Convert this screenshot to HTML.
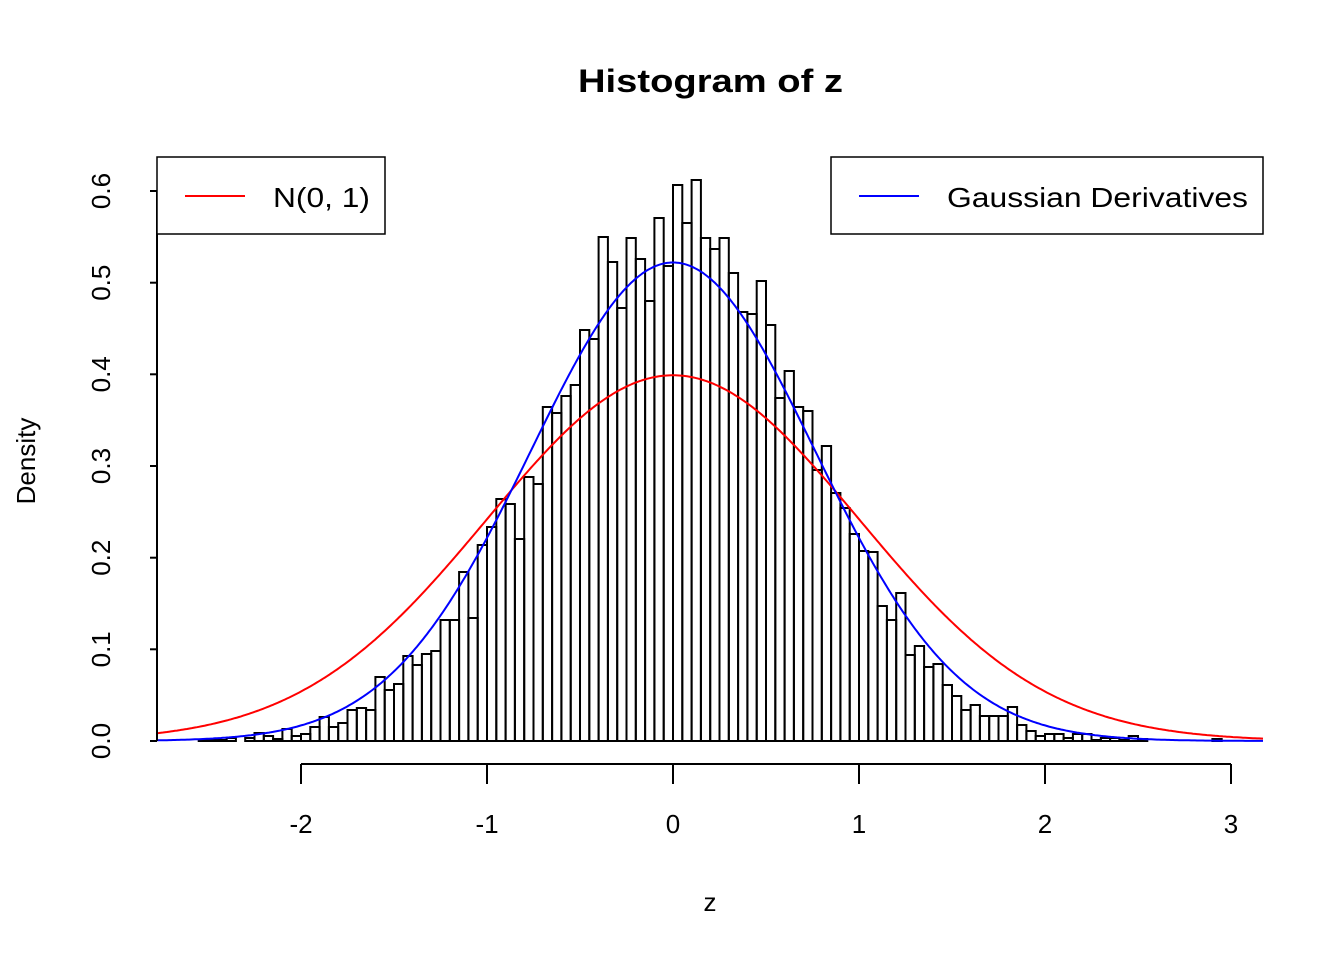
<!DOCTYPE html>
<html><head><meta charset="utf-8"><style>
html,body{margin:0;padding:0;background:#fff}
svg text{font-family:"Liberation Sans",Arial,sans-serif;fill:#000}
</style></head><body>
<svg id="s" width="1344" height="960" xmlns="http://www.w3.org/2000/svg">
<text x="578" y="92" font-size="32" font-weight="bold" textLength="265" lengthAdjust="spacingAndGlyphs">Histogram of z</text>
<g id="bars" fill="none" stroke="#000" stroke-width="2"></g>
<polyline id="red" fill="none" stroke="#ff0000" stroke-width="2"/>
<polyline id="blue" fill="none" stroke="#0000ff" stroke-width="2"/>
<g stroke="#000" stroke-width="2">
<line x1="157" y1="191" x2="157" y2="741"/>
<line x1="150" y1="741" x2="157" y2="741"/><line x1="150" y1="649.3" x2="157" y2="649.3"/>
<line x1="150" y1="557.7" x2="157" y2="557.7"/><line x1="150" y1="466" x2="157" y2="466"/>
<line x1="150" y1="374.3" x2="157" y2="374.3"/><line x1="150" y1="282.7" x2="157" y2="282.7"/>
<line x1="150" y1="191" x2="157" y2="191"/>
<line x1="301" y1="764" x2="1231" y2="764"/>
<line x1="301" y1="764" x2="301" y2="784"/><line x1="487" y1="764" x2="487" y2="784"/>
<line x1="673" y1="764" x2="673" y2="784"/><line x1="859" y1="764" x2="859" y2="784"/>
<line x1="1045" y1="764" x2="1045" y2="784"/><line x1="1231" y1="764" x2="1231" y2="784"/>
</g>
<g font-size="26" text-anchor="middle">
<text x="301" y="833">-2</text><text x="487" y="833">-1</text><text x="673" y="833">0</text>
<text x="859" y="833">1</text><text x="1045" y="833">2</text><text x="1231" y="833">3</text>
<text x="710" y="911">z</text>
<text transform="translate(110,741) rotate(-90)">0.0</text>
<text transform="translate(110,649.3) rotate(-90)">0.1</text>
<text transform="translate(110,557.7) rotate(-90)">0.2</text>
<text transform="translate(110,466) rotate(-90)">0.3</text>
<text transform="translate(110,374.3) rotate(-90)">0.4</text>
<text transform="translate(110,282.7) rotate(-90)">0.5</text>
<text transform="translate(110,191) rotate(-90)">0.6</text>
<text transform="translate(35,461) rotate(-90)">Density</text>
</g>
<rect x="157" y="157" width="228" height="77" fill="#fff" stroke="#000" stroke-width="1.5"/>
<line x1="185" y1="196" x2="245" y2="196" stroke="#ff0000" stroke-width="2"/>
<text x="273" y="207" font-size="28" textLength="97" lengthAdjust="spacingAndGlyphs">N(0, 1)</text>
<rect x="831" y="157" width="432" height="77" fill="#fff" stroke="#000" stroke-width="1.5"/>
<line x1="859" y1="196" x2="919" y2="196" stroke="#0000ff" stroke-width="2"/>
<text x="947" y="207" font-size="28" textLength="301" lengthAdjust="spacingAndGlyphs">Gaussian Derivatives</text>
</svg>
<script>
var tops=[740,740,740,738,741,738,733,736,739,729,736,734,727,717,727,723,710,708,710,677,690,684,656,665,654,651,620,620,572,618,
545,527,499,504,539,477,484,407,413,396,385,330,339,237,262,308,238,259,301,218,266,185,223,180,238,249,238,273,312,314,281,325,398,371,407,411,470,446,493,508,534,551,552,606,620,593,655,646,667,664,685,696,710,705,716,716,716,707,725,731,736,734,734,738,734,734,740,738,738,740,736,739,741,741,741,741,741,741,741,739];
var g=document.getElementById('bars'),h='';
for(var i=0;i<tops.length;i++){var x=198.7+9.3*i;h+='<rect x="'+x.toFixed(1)+'" y="'+tops[i]+'" width="9.3" height="'+(741-tops[i])+'"/>';}
g.innerHTML=h;
function Y(d){return 741-916.7*d}
var r=[],b=[];for(var px=157;px<=1263;px+=2){var z=(px-673)/186;
r.push(px+','+Y(Math.exp(-z*z/2)/Math.sqrt(2*Math.PI)).toFixed(1));
var s=0.764;b.push(px+','+Y(0.522*Math.exp(-z*z/(2*s*s))).toFixed(1));}
document.getElementById('red').setAttribute('points',r.join(' '));
document.getElementById('blue').setAttribute('points',b.join(' '));
</script>
</body></html>
